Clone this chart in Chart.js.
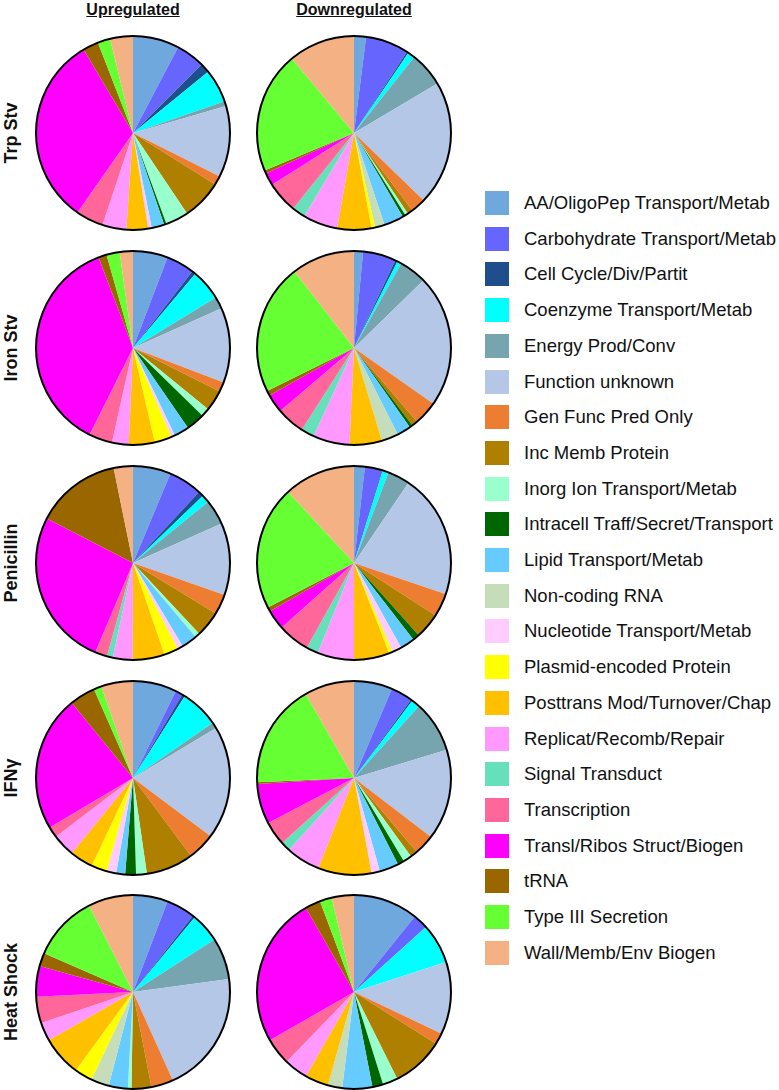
<!DOCTYPE html>
<html>
<head>
<meta charset="utf-8">
<script src="https://cdn.jsdelivr.net/npm/chart.js@4"></script>
<style>
  html, body { margin: 0; padding: 0; background: #fff; }
  body { width: 779px; height: 1090px; position: relative; overflow: hidden; font-family: "Liberation Sans", Arial, sans-serif; color: #111; }
  .pie { position: absolute; width: 200px; height: 200px; }
  .colhead { position: absolute; top: 0; font-weight: bold; font-size: 16px; text-decoration: underline; transform: translateX(-50%); white-space: nowrap; line-height: 20px; }
  .rowlab { position: absolute; font-weight: bold; font-size: 18px; white-space: nowrap; transform: translate(-50%, -50%) rotate(-90deg); line-height: 20px; }
  .leg { position: absolute; left: 485px; height: 24px; display: flex; align-items: center; white-space: nowrap; font-size: 18.5px; }
  .sw { width: 24px; height: 24px; margin-right: 15px; }
</style>
</head>
<body>
<script>
// ---- categories / colours ----
const categories = [
  "AA/OligoPep Transport/Metab", "Carbohydrate Transport/Metab", "Cell Cycle/Div/Partit",
  "Coenzyme Transport/Metab", "Energy Prod/Conv", "Function unknown", "Gen Func Pred Only",
  "Inc Memb Protein", "Inorg Ion Transport/Metab", "Intracell Traff/Secret/Transport",
  "Lipid Transport/Metab", "Non-coding RNA", "Nucleotide Transport/Metab",
  "Plasmid-encoded Protein", "Posttrans Mod/Turnover/Chap", "Replicat/Recomb/Repair",
  "Signal Transduct", "Transcription", "Transl/Ribos Struct/Biogen", "tRNA",
  "Type III Secretion", "Wall/Memb/Env Biogen"
];
const colors = [
  "#6FA8DC", "#6666FF", "#1F4E8C", "#00FFFF", "#76A5AF", "#B4C7E7", "#ED7D31",
  "#AF8000", "#99FFCC", "#006600", "#66CCFF", "#C5DDB8", "#FFCCFF", "#FFFF00",
  "#FFC000", "#FF99FF", "#66E0BA", "#FF6699", "#FF00FF", "#996600", "#66FF33", "#F4B183"
];
const columnLabels = ["Upregulated", "Downregulated"];
const rowLabels = ["Trp Stv", "Iron  Stv", "Penicillin", "IFNγ", "Heat Shock"];

// ---- series values (approx. % of genes per category) ----
const trpUp      = [7.7, 4.8, 1.6, 5.6, 0.8, 11.9, 1.5, 6.7, 3.8, 0.4, 2.1, 0, 0.6, 0, 3.6, 4.0, 0, 4.6, 31.8, 2.6, 2.1, 3.8];
const trpDown    = [2.0, 7.2, 0.3, 1.2, 5.8, 20.8, 2.5, 0.9, 0.5, 0.5, 3.3, 1.6, 0, 0.6, 5.7, 5.8, 2.2, 5.3, 2.1, 0.5, 20.3, 11.1];
const ironUp     = [5.8, 4.7, 0.6, 5.2, 2.0, 12.5, 1.6, 3.5, 1.4, 3.1, 2.5, 0, 0.6, 2.9, 4.3, 2.8, 0, 3.9, 36.8, 1.4, 2.2, 2.2];
const ironDown   = [1.5, 5.5, 0.4, 0.7, 4.6, 22.0, 4.0, 1.0, 0, 0.5, 2.3, 2.8, 0, 0, 5.4, 6.1, 2.2, 4.7, 3.1, 0.8, 21.8, 10.5];
const penUp      = [6.3, 5.6, 0.9, 1.3, 4.2, 12.0, 3.4, 4.3, 0.8, 0, 2.6, 0, 0.9, 2.4, 5.3, 3.3, 1.0, 2.0, 26.2, 14.2, 0, 3.2];
const penDown    = [1.8, 3.0, 0, 1.0, 3.7, 20.7, 3.9, 4.3, 0, 1.1, 2.4, 0, 1.6, 0.6, 5.9, 6.1, 2.0, 5.3, 3.3, 0.7, 20.7, 11.9];
const ifnUp      = [7.3, 1.2, 0.5, 6.4, 1.0, 18.9, 4.6, 7.9, 1.8, 1.8, 1.5, 0, 1.6, 2.6, 3.9, 3.8, 0, 1.8, 22.7, 4.3, 1.3, 5.3];
const ifnDown    = [6.4, 3.6, 0.3, 1.4, 8.6, 15.1, 3.4, 1.2, 1.4, 1.1, 3.2, 0, 1.4, 0, 8.9, 5.7, 1.6, 4.0, 6.7, 0.3, 17.4, 8.3];
const heatUp     = [5.8, 4.8, 0.4, 4.9, 7.0, 20.4, 3.7, 3.3, 0.6, 0, 3.2, 3.0, 0, 3.0, 6.7, 3.1, 0, 4.4, 5.1, 2.2, 11.0, 7.5];
const heatDown   = [10.8, 2.5, 0, 6.7, 0, 12.1, 1.9, 8.7, 2.5, 1.8, 5.0, 2.4, 0, 0, 3.9, 4.0, 0, 4.5, 25.0, 2.6, 2.0, 3.7];

const pieRows = [
  [trpUp, trpDown], [ironUp, ironDown], [penUp, penDown], [ifnUp, ifnDown], [heatUp, heatDown]
];

// ---- layout ----
const colX = [133, 354];
const rowY = [133, 348, 563, 778, 992];

const outline = {
  id: 'outline',
  afterDatasetsDraw(chart) {
    const arc = chart.getDatasetMeta(0).data[0];
    if (!arc) return;
    const ctx = chart.ctx;
    ctx.save();
    ctx.beginPath();
    ctx.arc(arc.x, arc.y, arc.outerRadius, 0, Math.PI * 2);
    ctx.lineWidth = 2;
    ctx.strokeStyle = "#000";
    ctx.stroke();
    ctx.restore();
  }
};

columnLabels.forEach((t, i) => {
  const d = document.createElement('div');
  d.className = 'colhead';
  d.style.left = colX[i] + 'px';
  d.textContent = t;
  document.body.appendChild(d);
});

rowLabels.forEach((t, r) => {
  const d = document.createElement('div');
  d.className = 'rowlab';
  d.style.left = '11px';
  d.style.top = rowY[r] + 'px';
  d.textContent = t;
  document.body.appendChild(d);
});

pieRows.forEach((row, r) => {
  row.forEach((vals, c) => {
    const wrap = document.createElement('div');
    wrap.className = 'pie';
    wrap.style.left = (colX[c] - 100) + 'px';
    wrap.style.top = (rowY[r] - 100) + 'px';
    const cv = document.createElement('canvas');
    cv.width = 200; cv.height = 200;
    wrap.appendChild(cv);
    document.body.appendChild(wrap);
    new Chart(cv, {
      type: 'pie',
      data: { labels: categories, datasets: [{ data: vals, backgroundColor: colors, borderWidth: 0 }] },
      options: {
        responsive: false,
        animation: false,
        layout: { padding: 3 },
        plugins: { legend: { display: false }, tooltip: { enabled: false } }
      },
      plugins: [outline]
    });
  });
});

// legend
categories.forEach((name, i) => {
  const d = document.createElement('div');
  d.className = 'leg';
  d.style.top = (203 - 12 + i * 35.7) + 'px';
  const sw = document.createElement('div');
  sw.className = 'sw';
  sw.style.background = colors[i];
  const tx = document.createElement('span');
  tx.textContent = name;
  d.appendChild(sw); d.appendChild(tx);
  document.body.appendChild(d);
});
</script>
</body>
</html>
